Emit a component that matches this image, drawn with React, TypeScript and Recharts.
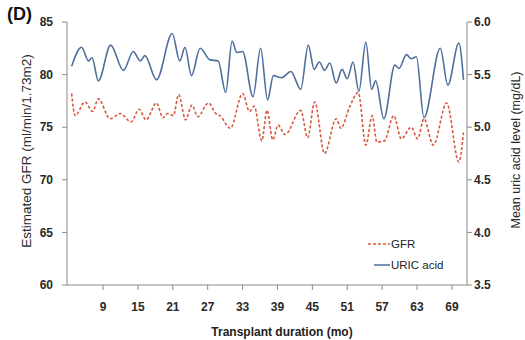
import { CartesianGrid, Legend, Line, LineChart, XAxis, YAxis } from "recharts";

const gfrMonths = [
  3.6, 4.2, 5.9, 7.2, 8.2, 10.2, 12.0, 13.8, 15.2, 16.4, 18.2, 19.3, 20.1, 21.1, 22.0, 23.2, 24.3,
  25.3, 27.1, 28.4, 29.1, 30.9, 33.0, 34.2, 35.0, 36.3, 37.2, 38.2, 39.1, 40.3, 43.0, 44.2, 45.4,
  47.1, 49.1, 49.9, 51.4, 52.9, 54.2, 55.3, 56.1, 57.4, 59.0, 60.3, 62.0, 63.1, 64.2, 65.8, 68.1,
  70.2, 71.0,
];
const gfrValues = [
  78.2, 76.1, 77.4, 76.5, 77.7, 75.8, 76.3, 75.5, 76.7, 75.7, 77.3, 75.9, 76.3, 76.1, 78.1, 75.7, 77.1,
  76.0, 77.3, 76.3, 76.1, 74.9, 78.2, 76.5, 77.0, 73.7, 76.6, 73.8, 75.2, 74.3, 76.6, 74.0, 77.4,
  72.5, 75.8, 74.9, 76.9, 78.3, 73.3, 76.1, 73.6, 73.7, 76.1, 73.9, 75.0, 73.9, 75.8, 73.3, 77.3,
  71.7, 74.5,
];

const uricMonths = [
  3.6, 5.3, 6.5, 7.1, 8.2, 10.3, 12.5, 14.2, 15.4, 16.2, 18.2, 20.9, 22.2, 23.1, 24.2, 25.7, 27.4,
  28.8, 30.1, 31.2, 32.0, 33.0, 34.8, 36.1, 37.3, 38.3, 39.7, 41.3, 43.0, 44.3, 45.3, 46.2, 47.1,
  48.0, 49.1, 50.1, 51.0, 52.0, 53.0, 54.2, 55.2, 55.9, 57.3, 59.2, 59.9, 61.2, 62.0, 62.9, 64.2,
  67.0, 68.3, 70.2, 71.0,
];
const uricValues = [
  5.58, 5.76, 5.63, 5.66, 5.44, 5.78, 5.54, 5.72, 5.63, 5.68, 5.45, 5.89, 5.63, 5.76, 5.49, 5.75, 5.64,
  5.63, 5.33, 5.82, 5.71, 5.72, 5.29, 5.75, 5.26, 5.49, 5.47, 5.53, 5.36, 5.78, 5.55, 5.62, 5.54,
  5.61, 5.42, 5.55, 5.46, 5.62, 5.34, 5.81, 5.36, 5.44, 5.08, 5.59, 5.56, 5.69, 5.65, 5.67, 5.09,
  5.75, 5.40, 5.80, 5.45,
];

const monthTicks = [9, 15, 21, 27, 33, 39, 45, 51, 57, 63, 69];
const gfrTicks = [60, 65, 70, 75, 80, 85];
const uricTicks = [3.5, 4.0, 4.5, 5.0, 5.5, 6.0];

const gfrData = gfrMonths.map((m, i) => ({ m, v: gfrValues[i] }));
const uricData = uricMonths.map((m, i) => ({ m, v: uricValues[i] }));

const FONT = "'Liberation Sans', Arial, sans-serif";
const RED = "#d8593f";
const BLUE = "#4f6f9e";
const AXIS = "#8a8a8a";

const tickStyle = { fontSize: 12, fontWeight: 700, fill: "#2a2a2a", fontFamily: FONT };

const LegendBox = () => (
  <div style={{ fontFamily: FONT, fontSize: 11.5, color: "#222" }}>
    <div style={{ display: "flex", alignItems: "center", height: 21 }}>
      <svg width={23} height={10}>
        <line x1={0} y1={5} x2={22} y2={5} stroke={RED} strokeWidth={1.5} strokeDasharray="3 2" />
      </svg>
      <span>GFR</span>
    </div>
    <div style={{ display: "flex", alignItems: "center", height: 21 }}>
      <svg width={23} height={10}>
        <line x1={6} y1={5} x2={22} y2={5} stroke={BLUE} strokeWidth={1.5} />
      </svg>
      <span>URIC acid</span>
    </div>
  </div>
);

const App = () => {
  return (
    <div style={{ position: "absolute", left: 0, top: 0, width: 525, height: 340, background: "#fff" }}>
      <div
        style={{
          position: "absolute",
          left: 7,
          top: 4,
          fontFamily: FONT,
          fontWeight: 700,
          fontSize: 18,
          color: "#111",
        }}
      >
        (D)
      </div>
      <LineChart width={525} height={340} margin={{ top: 22, right: 0, left: 0, bottom: 0 }}>
        <CartesianGrid stroke="none" />
        <XAxis
          type="number"
          dataKey="m"
          domain={[2.8, 71.6]}
          ticks={monthTicks}
          allowDuplicatedCategory={false}
          height={55}
          stroke={AXIS}
          tickSize={5}
          tickMargin={12}
          tick={tickStyle}
          label={{
            content: () => (
              <text
                x={282}
                y={336}
                textAnchor="middle"
                fontFamily={FONT}
                fontWeight={700}
                fontSize={12}
                fill="#222"
              >
                Transplant duration (mo)
              </text>
            ),
          }}
        />
        <YAxis
          yAxisId="gfr"
          orientation="left"
          domain={[60, 85]}
          ticks={gfrTicks}
          width={67}
          stroke={AXIS}
          tickSize={5}
          tickMargin={9}
          tick={tickStyle}
          label={{
            content: () => (
              <text
                x={26}
                y={151}
                transform="rotate(-90, 26, 151)"
                textAnchor="middle"
                dominantBaseline="central"
                fontFamily={FONT}
                fontSize={13.5}
                fill="#2a2a2a"
              >
                Estimated GFR (ml/min/1.73m2)
              </text>
            ),
          }}
        />
        <YAxis
          yAxisId="uric"
          orientation="right"
          domain={[3.5, 6.0]}
          ticks={uricTicks}
          tickFormatter={(v: number) => v.toFixed(1)}
          width={58}
          stroke={AXIS}
          tickSize={5}
          tickMargin={2}
          tick={{ ...tickStyle, textAnchor: "start" }}
          label={{
            content: () => (
              <text
                x={516}
                y={150}
                transform="rotate(-90, 516, 150)"
                textAnchor="middle"
                dominantBaseline="central"
                fontFamily={FONT}
                fontSize={12.5}
                fill="#2a2a2a"
              >
                Mean uric acid level (mg/dL)
              </text>
            ),
          }}
        />
        <Legend
          layout="vertical"
          align="center"
          verticalAlign="middle"
          content={() => <LegendBox />}
          wrapperStyle={{ left: 368, top: 233, width: 110 }}
        />
        <Line
          yAxisId="gfr"
          data={gfrData}
          dataKey="v"
          name="GFR"
          type="monotone"
          stroke={RED}
          strokeWidth={1.6}
          strokeDasharray="3 2"
          dot={false}
          activeDot={false}
          isAnimationActive={false}
        />
        <Line
          yAxisId="uric"
          data={uricData}
          dataKey="v"
          name="URIC acid"
          type="monotone"
          stroke={BLUE}
          strokeWidth={1.6}
          dot={false}
          activeDot={false}
          isAnimationActive={false}
        />
      </LineChart>
    </div>
  );
};

export default App;
